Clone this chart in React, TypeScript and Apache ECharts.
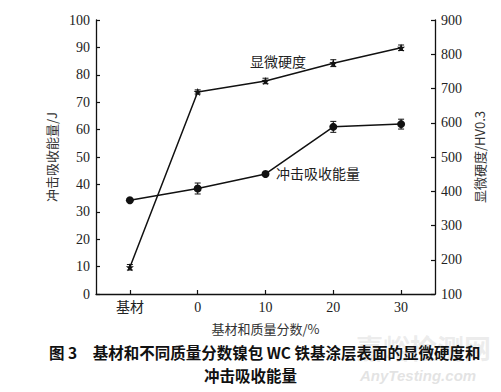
import React, { useEffect, useRef } from "react";
import * as echarts from "echarts";

const categories = ["基材", "0", "10", "20", "30"];
const impactEnergy = [34.2, 38.5, 43.8, 61.0, 62.0];
const impactErr = [0.6, 2.0, 0.6, 2.0, 1.8];
const hardness = [178, 690, 722, 774, 819];
const hardnessErr = [8, 6, 8, 10, 8];
const leftTicks = [0, 100, 10];
const rightTicks = [100, 900, 100];

const STAR =
  "path://M12,1 L14.9,8.6 L23,9 L16.7,14.1 L18.8,22 L12,17.6 L5.2,22 L7.3,14.1 L1,9 L9.1,8.6 Z";
const SERIF = "'Liberation Serif', 'Noto Sans CJK SC', serif";
const CJK = "'Noto Sans CJK SC', sans-serif";

function errorSeries(vals: number[], errs: number[], yAxisIndex: number) {
  return {
    type: "custom",
    yAxisIndex,
    z: 1,
    data: vals.map((v, i) => [i, v, errs[i]]),
    encode: { x: 0, y: 1 },
    renderItem: (params: any, api: any) => {
      const x = api.value(0);
      const v = api.value(1);
      const e = api.value(2);
      const t = api.coord([x, v + e]);
      const b = api.coord([x, v - e]);
      const w = 3;
      const st = { stroke: "#111", lineWidth: 1 };
      return {
        type: "group",
        children: [
          { type: "line", shape: { x1: t[0], y1: t[1], x2: b[0], y2: b[1] }, style: st },
          { type: "line", shape: { x1: t[0] - w, y1: t[1], x2: t[0] + w, y2: t[1] }, style: st },
          { type: "line", shape: { x1: b[0] - w, y1: b[1], x2: b[0] + w, y2: b[1] }, style: st },
        ],
      };
    },
  };
}

export default function App() {
  const ref = useRef<HTMLDivElement>(null);
  useEffect(() => {
    document.body.style.margin = "0";
    const chart = echarts.init(ref.current!, null, { renderer: "svg" });
    const axisLine = { show: true, lineStyle: { color: "#111", width: 1.3 } };
    const axisTick = { show: true, inside: true, length: 4, lineStyle: { color: "#111", width: 1.2 } };
    chart.setOption({
      animation: false,
      backgroundColor: "#fff",
      grid: { left: 96, right: 66, top: 20, bottom: 98 },
      xAxis: {
        type: "category",
        data: categories,
        boundaryGap: true,
        axisLine,
        axisTick: { ...axisTick, alignWithLabel: true },
        axisLabel: { color: "#222", fontFamily: SERIF, fontSize: 14, margin: 6 },
        name: "基材和质量分数/%",
        nameLocation: "middle",
        nameGap: 28,
        nameTextStyle: { color: "#333", fontFamily: CJK, fontSize: 13 },
        splitLine: { show: false },
      },
      yAxis: [
        {
          type: "value",
          min: leftTicks[0],
          max: leftTicks[1],
          interval: leftTicks[2],
          position: "left",
          axisLine,
          axisTick,
          axisLabel: { color: "#222", fontFamily: SERIF, fontSize: 14, margin: 6 },
          splitLine: { show: false },
          name: "冲击吸收能量/J",
          nameLocation: "middle",
          nameRotate: 90,
          nameGap: 38,
          nameTextStyle: { color: "#333", fontFamily: CJK, fontSize: 13 },
        },
        {
          type: "value",
          min: rightTicks[0],
          max: rightTicks[1],
          interval: rightTicks[2],
          position: "right",
          axisLine,
          axisTick,
          axisLabel: { color: "#222", fontFamily: SERIF, fontSize: 14, margin: 6 },
          splitLine: { show: false },
          name: "显微硬度/HV0.3",
          nameLocation: "middle",
          nameRotate: 90,
          nameGap: 38,
          nameTextStyle: { color: "#333", fontFamily: CJK, fontSize: 13 },
        },
      ],
      series: [
        errorSeries(impactEnergy, impactErr, 0),
        errorSeries(hardness, hardnessErr, 1),
        {
          type: "line",
          name: "冲击吸收能量",
          yAxisIndex: 0,
          data: impactEnergy,
          symbol: "circle",
          symbolSize: 8,
          z: 3,
          lineStyle: { color: "#111", width: 1.5 },
          itemStyle: { color: "#111" },
        },
        {
          type: "line",
          name: "显微硬度",
          yAxisIndex: 1,
          data: hardness,
          symbol: STAR,
          symbolSize: 8,
          z: 3,
          lineStyle: { color: "#111", width: 1.5 },
          itemStyle: { color: "#111" },
        },
      ],
      graphic: [
        {
          type: "text",
          left: 250,
          top: 54,
          style: { text: "显微硬度", font: `14px ${CJK}`, fill: "#222" },
        },
        {
          type: "text",
          left: 276,
          top: 166,
          style: { text: "冲击吸收能量", font: `14px ${CJK}`, fill: "#222" },
        },
        {
          type: "text",
          left: 356,
          top: 334,
          z: 0,
          style: { text: "嘉峪检测网", font: `bold 27px ${CJK}`, fill: "rgba(200,200,200,0.35)" },
        },
        {
          type: "text",
          left: 360,
          top: 368,
          z: 0,
          style: {
            text: "AnyTesting.com",
            font: `italic bold 15px 'Liberation Sans', sans-serif`,
            fill: "rgba(200,200,200,0.5)",
          },
        },
        {
          type: "text",
          left: 49,
          top: 344,
          z: 10,
          style: {
            text: "图 3　基材和不同质量分数镍包 WC 铁基涂层表面的显微硬度和",
            font: `bold 15.5px ${CJK}`,
            fill: "#111",
          },
        },
        {
          type: "text",
          left: "center",
          top: 367,
          z: 10,
          style: { text: "冲击吸收能量", font: `bold 15.5px ${CJK}`, fill: "#111" },
        },
      ],
    });
    return () => chart.dispose();
  }, []);
  return <div ref={ref} style={{ width: 501, height: 392 }} />;
}
